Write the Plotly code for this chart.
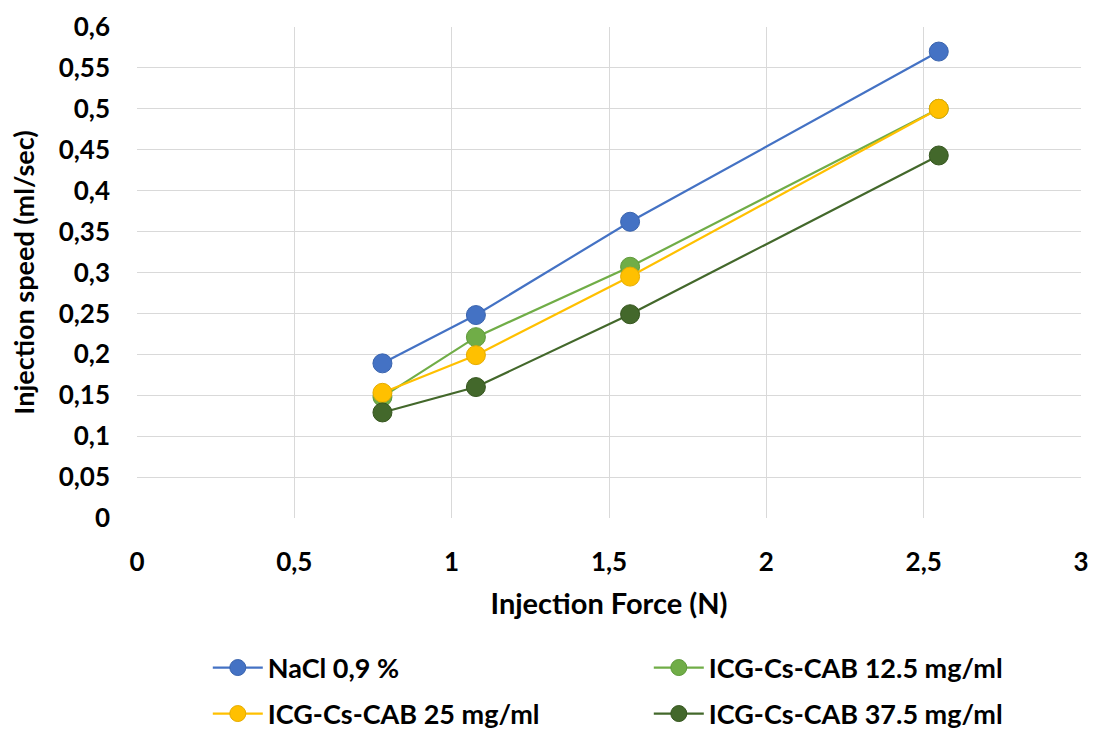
import plotly.graph_objects as go

force = [0.78, 1.077, 1.567, 2.548]
nacl = [0.189, 0.248, 0.362, 0.570]
icg125 = [0.148, 0.221, 0.307, 0.500]
icg25 = [0.153, 0.199, 0.295, 0.500]
icg375 = [0.129, 0.160, 0.249, 0.443]

names = ["NaCl 0,9 %", "ICG-Cs-CAB 12.5 mg/ml", "ICG-Cs-CAB 25 mg/ml", "ICG-Cs-CAB 37.5 mg/ml"]
colors = ["#4472C4", "#70AD47", "#FFC000", "#43682B"]
edges = ["#3A64AE", "#5F9A3B", "#E6AC00", "#36561F"]
legend_ids = ["legend", "legend", "legend2", "legend2"]

y_tickvals = [0, 0.05, 0.1, 0.15, 0.2, 0.25, 0.3, 0.35, 0.4, 0.45, 0.5, 0.55, 0.6]
y_ticktext = ["0", "0,05", "0,1", "0,15", "0,2", "0,25", "0,3", "0,35", "0,4", "0,45", "0,5", "0,55", "0,6"]
x_tickvals = [0, 0.5, 1, 1.5, 2, 2.5, 3]
x_ticktext = ["0", "0,5", "1", "1,5", "2", "2,5", "3"]

FONT = "Lato"
fig = go.Figure()
for name, ys, c, e, lg in zip(names, [nacl, icg125, icg25, icg375], colors, edges, legend_ids):
    fig.add_trace(go.Scatter(
        x=force, y=ys, name=name, mode="lines+markers", legend=lg,
        line=dict(color=c, width=2.2),
        marker=dict(color=c, size=19, line=dict(color=e, width=1)),
    ))

legend_common = dict(
    orientation="h", xanchor="left", yanchor="middle",
    entrywidth=376, entrywidthmode="pixels",
    font=dict(family=FONT, size=27, color="#000000", weight="bold"),
    itemwidth=50, bgcolor="rgba(0,0,0,0)",
)

fig.update_layout(
    width=1094, height=731,
    margin=dict(l=137, r=13, t=27, b=213, autoexpand=False),
    paper_bgcolor="white", plot_bgcolor="white",
    font=dict(family=FONT, size=26, color="#000000"),
    showlegend=True,
    legend=dict(x=0.075, y=-0.3055, **legend_common),
    legend2=dict(x=0.075, y=-0.3992, **legend_common),
    xaxis=dict(
        range=[0, 3], tickvals=x_tickvals, ticktext=x_ticktext,
        showgrid=True, gridcolor="#D9D9D9", gridwidth=1,
        zeroline=False, showline=False, ticks="", automargin=False,
        tickfont=dict(family=FONT, size=26, weight="bold"),
        ticklabelstandoff=26,
        title=dict(text="Injection Force (N)", font=dict(family=FONT, size=29, weight="bold"), standoff=17),
    ),
    yaxis=dict(
        range=[0, 0.6], tickvals=y_tickvals, ticktext=y_ticktext,
        showgrid=True, gridcolor="#D9D9D9", gridwidth=1,
        zeroline=False, showline=False, ticks="", automargin=False,
        tickfont=dict(family=FONT, size=26, weight="bold"),
        ticklabelstandoff=26,
        title=dict(text="Injection speed (ml/sec)", font=dict(family=FONT, size=27, weight="bold"), standoff=16),
    ),
)

fig.write_html("out.html")
